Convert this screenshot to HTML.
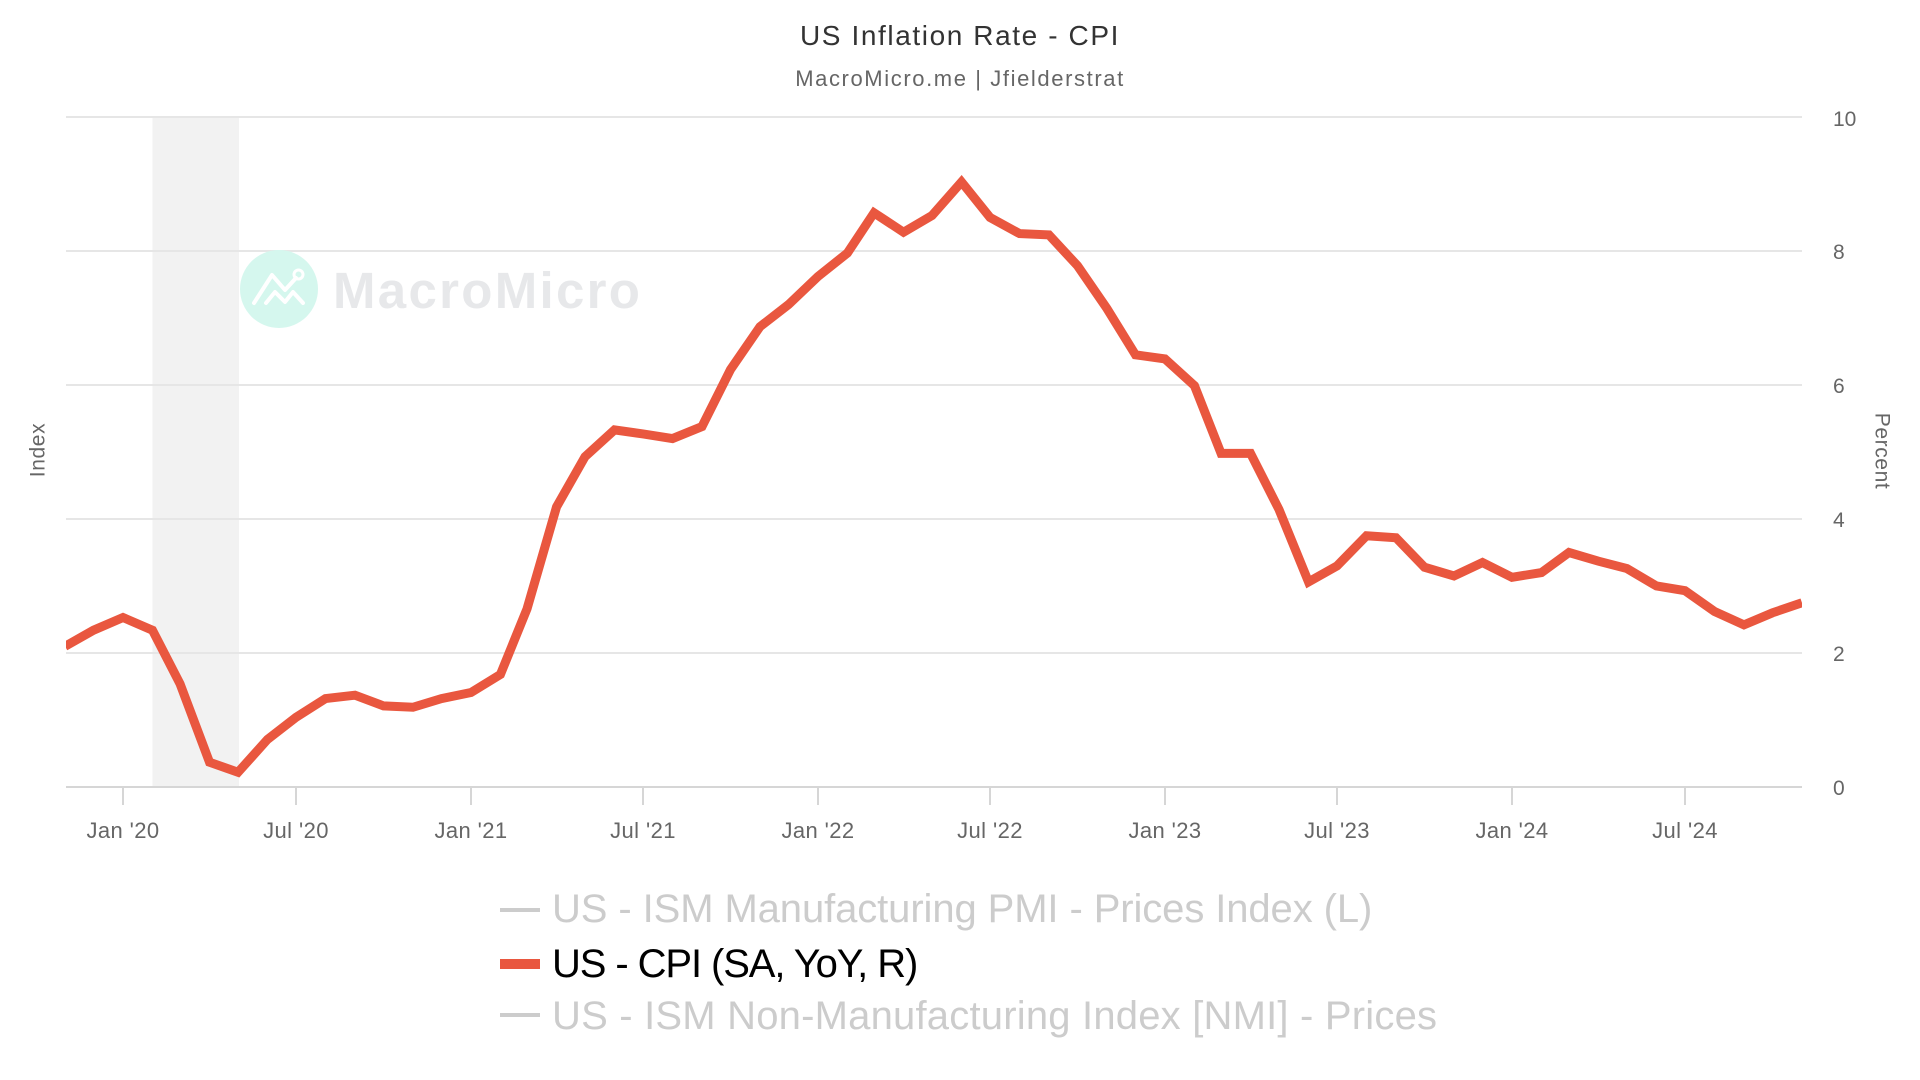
<!DOCTYPE html>
<html>
<head>
<meta charset="utf-8">
<style>
  html, body { margin:0; padding:0; background:#fff; }
  body { width:1920px; height:1080px; overflow:hidden; }
  svg { display:block; font-family:"Liberation Sans", Arial, sans-serif; }
</style>
</head>
<body>
<svg width="1920" height="1080" viewBox="0 0 1920 1080" xmlns="http://www.w3.org/2000/svg">
  <defs>
    <clipPath id="plot">
      <rect x="66" y="100" width="1736" height="700"/>
    </clipPath>
  </defs>

  <!-- Title -->
  <text x="960" y="45" text-anchor="middle" font-size="28" fill="#333" letter-spacing="1.6">US Inflation Rate - CPI</text>
  <text x="960" y="86" text-anchor="middle" font-size="22" fill="#666" letter-spacing="1.6">MacroMicro.me | Jfielderstrat</text>

  <!-- Recession band -->
  <rect x="152.5" y="117" width="86.5" height="669" fill="#f2f2f2"/>

  <!-- Gridlines -->
  <g stroke="#e6e6e6" stroke-width="2">
    <line x1="66" y1="117" x2="1802" y2="117"/>
    <line x1="66" y1="251" x2="1802" y2="251"/>
    <line x1="66" y1="385" x2="1802" y2="385"/>
    <line x1="66" y1="519" x2="1802" y2="519"/>
    <line x1="66" y1="653" x2="1802" y2="653"/>
  </g>

  <!-- Watermark -->
  <circle cx="279" cy="289" r="39" fill="#d5f7ee"/>
  <g fill="none" stroke="#fff" stroke-width="4" stroke-linecap="round" stroke-linejoin="round">
    <polyline points="254,303 272,275 285,290 296,278"/>
    <polyline points="266,303 275,292 285,302 293,292 303,303"/>
    <circle cx="298.5" cy="274.5" r="4.5" stroke-width="3"/>
  </g>
  <text x="333" y="308" font-size="51" font-weight="bold" fill="#e7e8ea" letter-spacing="2.3">MacroMicro</text>

  <!-- X axis -->
  <line x1="66" y1="787" x2="1802" y2="787" stroke="#d6d6d6" stroke-width="2"/>
  <g stroke="#d6d6d6" stroke-width="2">
    <line x1="123" y1="787" x2="123" y2="805"/>
    <line x1="296" y1="787" x2="296" y2="805"/>
    <line x1="471" y1="787" x2="471" y2="805"/>
    <line x1="643" y1="787" x2="643" y2="805"/>
    <line x1="818" y1="787" x2="818" y2="805"/>
    <line x1="990" y1="787" x2="990" y2="805"/>
    <line x1="1165" y1="787" x2="1165" y2="805"/>
    <line x1="1337" y1="787" x2="1337" y2="805"/>
    <line x1="1512" y1="787" x2="1512" y2="805"/>
    <line x1="1685" y1="787" x2="1685" y2="805"/>
  </g>
  <g font-size="22" fill="#666" text-anchor="middle" letter-spacing="0.4">
    <text x="123" y="838">Jan '20</text>
    <text x="296" y="838">Jul '20</text>
    <text x="471" y="838">Jan '21</text>
    <text x="643" y="838">Jul '21</text>
    <text x="818" y="838">Jan '22</text>
    <text x="990" y="838">Jul '22</text>
    <text x="1165" y="838">Jan '23</text>
    <text x="1337" y="838">Jul '23</text>
    <text x="1512" y="838">Jan '24</text>
    <text x="1685" y="838">Jul '24</text>
  </g>

  <!-- Right axis labels -->
  <g font-size="21" fill="#666">
    <text x="1833" y="126">10</text>
    <text x="1833" y="259">8</text>
    <text x="1833" y="393">6</text>
    <text x="1833" y="527">4</text>
    <text x="1833" y="661">2</text>
    <text x="1833" y="795">0</text>
  </g>

  <!-- Axis titles -->
  <text transform="translate(1882 451) rotate(90)" text-anchor="middle" dominant-baseline="central" font-size="21" fill="#666" letter-spacing="0.6">Percent</text>
  <text transform="translate(38 450) rotate(-90)" text-anchor="middle" dominant-baseline="central" font-size="21" fill="#666" letter-spacing="0.6">Index</text>

  <!-- CPI series -->
  <g clip-path="url(#plot)">
    <g transform="translate(123 787) scale(0.9507 -67)">
      <polyline vector-effect="non-scaling-stroke" fill="none" stroke="#e9573f" stroke-width="9" stroke-linejoin="miter" stroke-miterlimit="4"
        points="-61,2.1 -31,2.34 0,2.53 31,2.34 60,1.54 91,0.37 121,0.22 152,0.71 182,1.04 213,1.32 244,1.37 274,1.21 305,1.19 335,1.32 366,1.41 397,1.68 425,2.66 456,4.18 486,4.93 517,5.33 547,5.27 578,5.2 609,5.38 639,6.23 670,6.87 700,7.2 731,7.62 762,7.97 790,8.57 821,8.28 851,8.53 882,9.03 912,8.5 943,8.26 974,8.24 1004,7.78 1035,7.14 1065,6.45 1096,6.39 1127,5.99 1155,4.98 1186,4.98 1216,4.14 1247,3.06 1277,3.3 1308,3.75 1339,3.72 1369,3.28 1400,3.15 1430,3.35 1461,3.13 1492,3.2 1521,3.5 1552,3.37 1582,3.26 1613,3.0 1643,2.93 1674,2.62 1705,2.42 1735,2.6 1766,2.75"/>
    </g>
  </g>

  <!-- Legend -->
  <line x1="500" y1="910" x2="540" y2="910" stroke="#cccccc" stroke-width="4"/>
  <text x="552" y="922" font-size="40" fill="#cccccc" letter-spacing="-0.1">US - ISM Manufacturing PMI - Prices Index (L)</text>

  <rect x="500" y="959" width="40" height="10" fill="#e9573f"/>
  <text x="552" y="977" font-size="40" fill="#000" letter-spacing="-1.1">US - CPI (SA, YoY, R)</text>

  <line x1="500" y1="1015" x2="540" y2="1015" stroke="#cccccc" stroke-width="4"/>
  <text x="552" y="1029" font-size="40" fill="#cccccc" letter-spacing="0.2">US - ISM Non-Manufacturing Index [NMI] - Prices</text>
</svg>
</body>
</html>
